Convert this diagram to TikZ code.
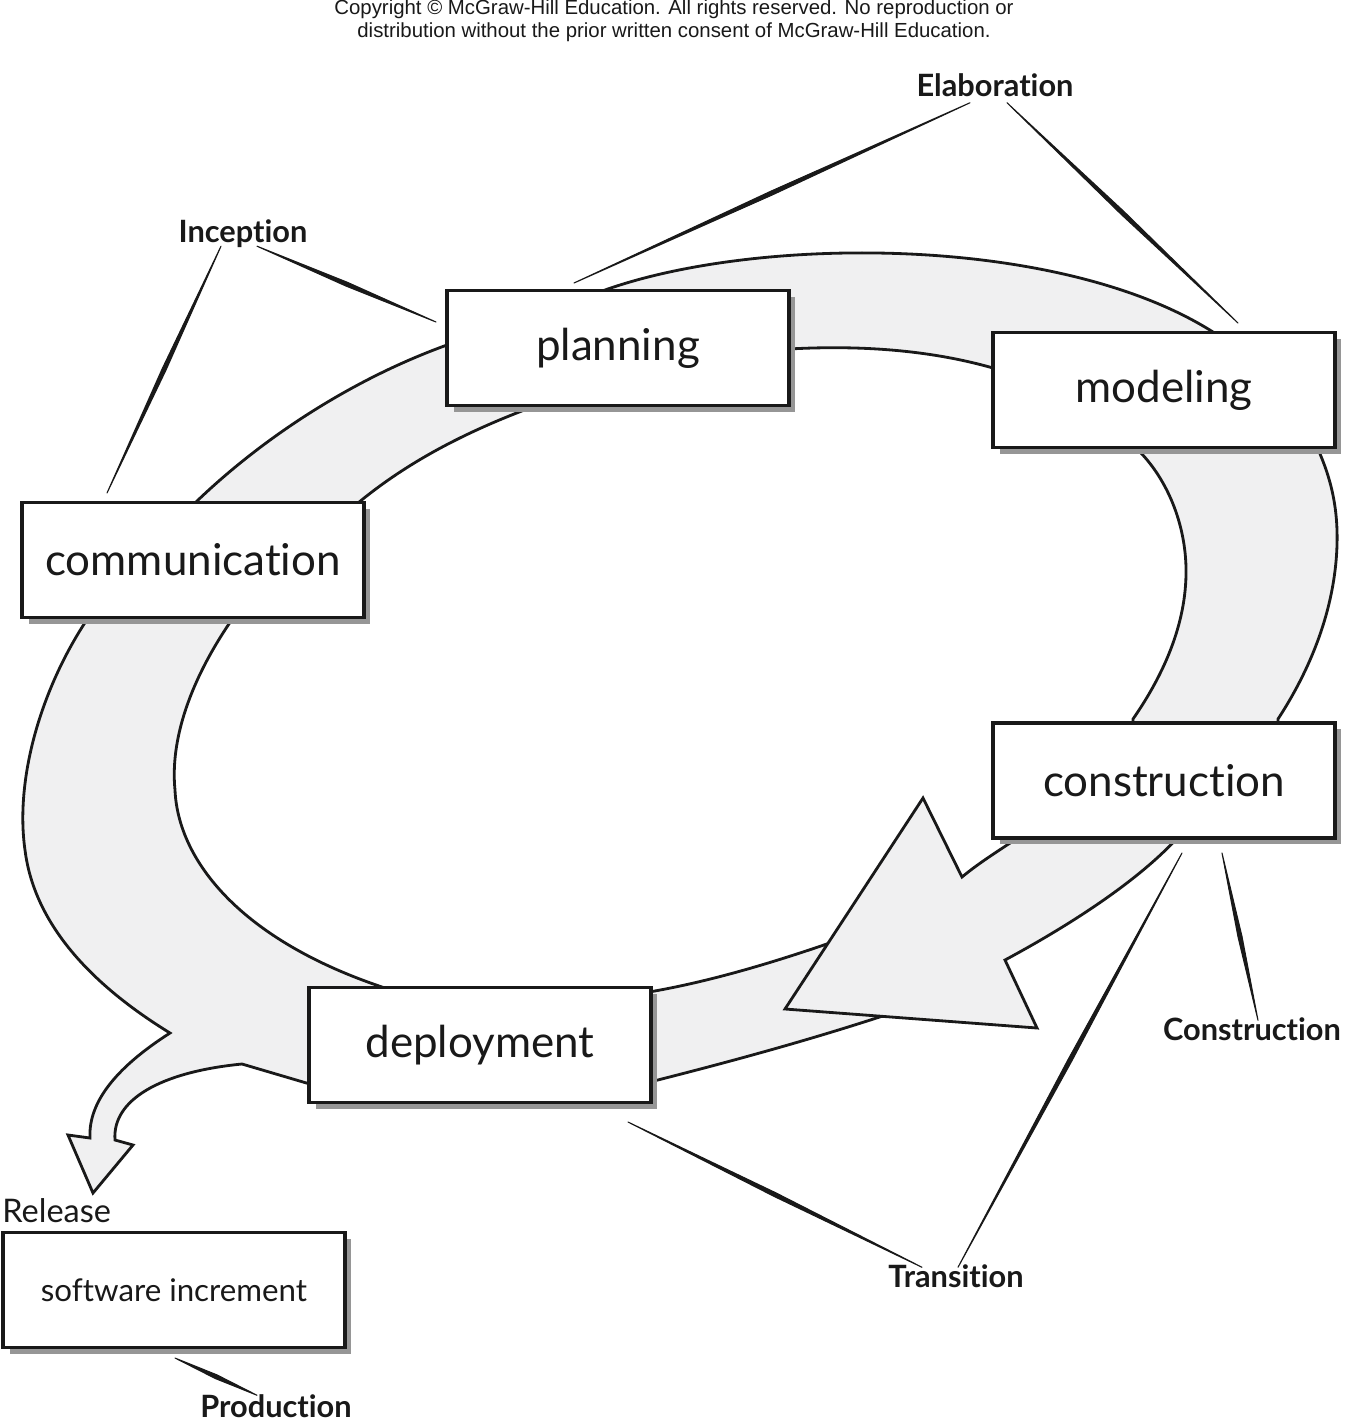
\documentclass[tikz,border=0pt]{standalone}
\usepackage{fontspec}
\setmainfont{Lato}[Ligatures={NoCommon}]
\newfontfamily\noticefont{Liberation Sans}
\usetikzlibrary{positioning,shadows,calc}
\definecolor{bandgray}{RGB}{240,240,241}
\definecolor{shadegray}{RGB}{150,150,150}
\definecolor{inkblack}{RGB}{25,25,25}
\newcommand\taperline[2]{\filldraw[inkblack, line width=0.6pt, line join=round] (#1) -- ($(#1)!0.5!(#2)!0.04cm!90:(#2)$) -- (#2) -- ($(#1)!0.5!(#2)!0.04cm!-90:(#2)$) -- cycle;}

\begin{document}
\begin{tikzpicture}[x=0.02cm, y=-0.02cm, >=latex]
    \tikzstyle{phase} = [draw=inkblack, fill=white, line width=2pt, minimum width=6.84cm, minimum height=2.3cm, font=\fontsize{25}{30}\selectfont, text=inkblack, drop shadow={shadow xshift=0.13cm, shadow yshift=-0.13cm, fill=shadegray, opacity=1}]
    \tikzstyle{band} = [fill=bandgray, draw=inkblack, line width=1.6pt]
    \tikzstyle{tag} = [font=\bfseries\fontsize{17.5}{21}\selectfont, text=inkblack]

    \path[use as bounding box, fill=white] (0,0) rectangle (1348,1424);

    \node[font=\noticefont\fontsize{11.6}{13}\selectfont, align=center, text=inkblack] (notice) at (674,21) {Copyright © McGraw-Hill Education. All rights reserved. No reproduction or\\distribution without the prior written consent of McGraw-Hill Education.};

    % ring, drawn in pieces that end under the boxes
    \path[band] (80,606) -- (88,618) .. controls (40,690) and (15,780) .. (25,850) .. controls (35,930) and (100,990) .. (170,1033) .. controls (120,1065) and (88,1100) .. (90,1138) -- (68,1135) -- (93,1193) -- (133,1145) -- (115,1140) .. controls (112,1100) and (160,1072) .. (242,1064) -- (320,1087) -- (395,998) -- (385,988) .. controls (240,940) and (178,860) .. (175,790) .. controls (170,740) and (190,680) .. (233,618) -- (240,606) -- cycle;
    \path[band] (195,512) -- (195,503) .. controls (260,440) and (350,380) .. (447,345) -- (460,345) -- (535,398) -- (535,406) .. controls (470,430) and (410,460) .. (358,503) -- (350,512) -- cycle;
    \path[band] (605,300) -- (605,290) .. controls (760,235) and (1060,235) .. (1213,332) -- (1213,345) -- (1000,368) -- (993,368) .. controls (930,350) and (860,345) .. (789,349) -- (780,349) -- cycle;
    \path[band] (1135,440) -- (1135,447) .. controls (1170,480) and (1187,530) .. (1186,575) .. controls (1185,630) and (1160,680) .. (1133,719) -- (1133,728) -- (1278,728) -- (1278,719) .. controls (1310,670) and (1335,610) .. (1337,545) .. controls (1338,510) and (1332,480) .. (1317,447) -- (1317,440) -- cycle;
    \path[band] (630,995) .. controls (700,985) and (780,962) .. (880,925) -- (930,1000) .. controls (830,1035) and (730,1062) .. (630,1087) -- cycle;
    \path[band] (1185,825) -- (1180,835) .. controls (1140,880) and (1070,925) .. (1005,960) -- (1037,1028) -- (785,1009) -- (923,798) -- (962,877) .. controls (980,862) and (1000,850) .. (1022,835) -- (1025,825) -- cycle;

    \node[phase] (communication) at (193,560) {communication};
    \node[phase] (planning) at (618,348) {planning};
    \node[phase] (modeling) at (1164,390) {modeling};
    \node[phase, below=5.44cm of modeling] (construction) {construction};
    \node[phase] (deployment) at (480,1045) {deployment};
    \node[phase, font=\fontsize{17.8}{22}\selectfont] (increment) at (174,1290) {software increment};
    \node[font=\fontsize{18.5}{22}\selectfont, text=inkblack, inner sep=0pt, anchor=west] (release) at (2,1211) {Release};

    \node[tag] (elaboration) at (995,85) {Elaboration};
    \node[tag] (inception) at (243,234) {Inception};
    \node[tag] (constrtag) at (1252,1029) {Construction};
    \node[tag] (transition) at (956,1276) {Transition};
    \node[tag] (production) at (276,1406) {Production};

    \coordinate (elabA) at (574,283);
    \coordinate (elabB) at (1238,323);
    \coordinate (incA) at (107,493);
    \coordinate (incB) at (436,322);
    \coordinate (consA) at (1222,853);
    \coordinate (transA) at (1182,853);
    \coordinate (transB) at (628,1122);
    \coordinate (prodA) at (175,1358);

    \coordinate (elabL) at ([xshift=-0.5cm]elaboration.south);
    \coordinate (elabR) at ([xshift=0.24cm]elaboration.south);
    \coordinate (incL) at ([xshift=-0.44cm, yshift=0.16cm]inception.south);
    \coordinate (incR) at ([xshift=0.28cm, yshift=0.16cm]inception.south);
    \coordinate (consT) at ([xshift=0.12cm, yshift=-0.18cm]constrtag.north);
    \coordinate (transR) at ([xshift=0.04cm, yshift=-0.18cm]transition.north);
    \coordinate (transL) at ([xshift=-0.68cm, yshift=-0.18cm]transition.north);
    \coordinate (prodT) at ([xshift=-0.38cm, yshift=-0.14cm]production.north);

    \taperline{elabL}{elabA}
    \taperline{elabR}{elabB}
    \taperline{incL}{incA}
    \taperline{incR}{incB}
    \taperline{consT}{consA}
    \taperline{transR}{transA}
    \taperline{transL}{transB}
    \taperline{prodT}{prodA}
\end{tikzpicture}
\end{document}
